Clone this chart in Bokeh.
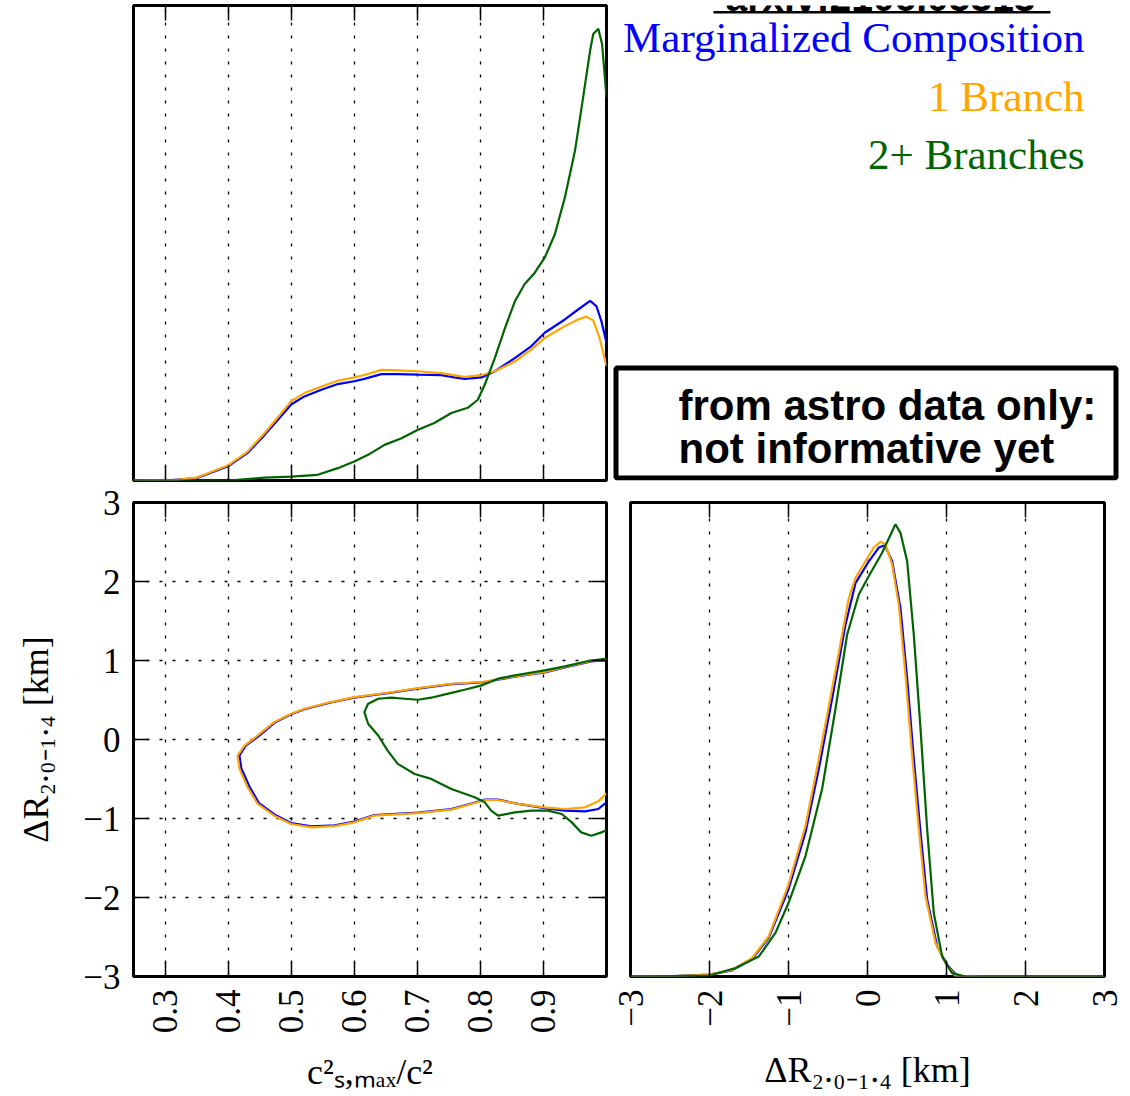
import math
from bokeh.plotting import figure
from bokeh.models import Range1d, LinearAxis, FixedTicker, Grid, BoxAnnotation, Label
from bokeh.layouts import column, row
from bokeh.embed import file_html
from bokeh.resources import INLINE

# ---------------- data ----------------
cs2_ticks = [0.3, 0.4, 0.5, 0.6, 0.7, 0.8, 0.9]
cs2_tick_labels = ["0.3", "0.4", "0.5", "0.6", "0.7", "0.8", "0.9"]
dr_ticks = [-3, -2, -1, 0, 1, 2, 3]
dr_tick_labels = ["\u22123", "\u22122", "\u22121", "0", "1", "2", "3"]

series_names = ["Marginalized Composition", "1 Branch", "2+ Branches"]
series_colors = ["blue", "orange", "darkgreen"]

# marginal of c_s,max^2 / c^2 (top-left panel)
cs2_x_blue = [0.25, 0.30, 0.35, 0.40, 0.431, 0.458, 0.479, 0.50, 0.521, 0.548, 0.574, 0.60, 0.616, 0.643, 0.669,
              0.701, 0.738, 0.759, 0.775, 0.802, 0.823, 0.855, 0.881, 0.902, 0.934, 0.955, 0.974, 0.984, 0.992, 1.0]
cs2_pdf_blue = [0.0, 0.0, 0.005, 0.030, 0.058, 0.096, 0.128, 0.160, 0.177, 0.191, 0.203, 0.209, 0.214, 0.224, 0.224,
                0.223, 0.222, 0.217, 0.214, 0.217, 0.230, 0.258, 0.283, 0.311, 0.339, 0.360, 0.378, 0.367, 0.335, 0.290]
cs2_x_orange = [0.25, 0.315, 0.35, 0.40, 0.431, 0.458, 0.479, 0.50, 0.521, 0.548, 0.574, 0.60, 0.616, 0.643, 0.669,
                0.701, 0.738, 0.775, 0.802, 0.823, 0.855, 0.881, 0.902, 0.934, 0.955, 0.968, 0.979, 0.989, 1.0]
cs2_pdf_orange = [0.0, 0.001, 0.006, 0.032, 0.061, 0.100, 0.133, 0.167, 0.184, 0.198, 0.210, 0.217, 0.222, 0.233, 0.232,
                  0.230, 0.226, 0.218, 0.222, 0.230, 0.251, 0.276, 0.300, 0.325, 0.339, 0.345, 0.337, 0.300, 0.241]
cs2_x_green = [0.25, 0.40, 0.458, 0.50, 0.542, 0.574, 0.60, 0.622, 0.648, 0.675, 0.701, 0.727, 0.754, 0.780, 0.796,
               0.807, 0.823, 0.839, 0.855, 0.870, 0.886, 0.902, 0.918, 0.934, 0.950, 0.963, 0.974, 0.979, 0.987, 0.993, 1.0]
cs2_pdf_green = [0.0, 0.0, 0.006, 0.008, 0.012, 0.026, 0.040, 0.054, 0.075, 0.089, 0.107, 0.121, 0.142, 0.153, 0.170,
                 0.202, 0.258, 0.321, 0.378, 0.413, 0.437, 0.469, 0.518, 0.596, 0.694, 0.807, 0.905, 0.940, 0.951, 0.919, 0.807]

# marginal of Delta R (bottom-right panel)
dr_x_blue = [-3.0, -2.43, -2.0, -1.713, -1.46, -1.249, -1.0, -0.785, -0.616, -0.447, -0.279, -0.152, 0.017, 0.143,
             0.219, 0.312, 0.417, 0.502, 0.586, 0.671, 0.755, 0.881, 1.008, 1.135, 1.5, 3.0]
dr_pdf_blue = [0.0, 0.001, 0.004, 0.013, 0.037, 0.082, 0.184, 0.304, 0.438, 0.587, 0.742, 0.830, 0.876, 0.905,
               0.910, 0.876, 0.777, 0.629, 0.459, 0.304, 0.163, 0.064, 0.025, 0.001, 0.0, 0.0]
dr_x_orange = [-3.0, -2.43, -2.0, -1.713, -1.46, -1.249, -1.0, -0.785, -0.616, -0.447, -0.321, -0.236, -0.152, -0.026,
               0.080, 0.164, 0.228, 0.312, 0.396, 0.481, 0.565, 0.649, 0.734, 0.860, 0.987, 1.114, 1.5, 3.0]
dr_pdf_orange = [0.0, 0.001, 0.004, 0.014, 0.039, 0.085, 0.194, 0.318, 0.459, 0.608, 0.721, 0.799, 0.841, 0.876,
                 0.905, 0.917, 0.912, 0.869, 0.784, 0.636, 0.466, 0.311, 0.170, 0.071, 0.028, 0.001, 0.0, 0.0]
dr_x_green = [-3.0, -2.0, -1.671, -1.376, -1.165, -1.0, -0.785, -0.574, -0.405, -0.258, -0.110, 0.017, 0.185, 0.354,
              0.417, 0.502, 0.586, 0.671, 0.755, 0.839, 0.945, 1.071, 1.24, 3.0]
dr_pdf_green = [0.0, 0.002, 0.018, 0.042, 0.092, 0.155, 0.254, 0.396, 0.565, 0.721, 0.806, 0.845, 0.894, 0.954,
                0.936, 0.876, 0.721, 0.523, 0.311, 0.134, 0.042, 0.007, 0.0, 0.0]

# credible contours (bottom-left panel)
ctr_x_blue = [1.0, 0.976, 0.934, 0.902, 0.855, 0.802, 0.754, 0.701, 0.653, 0.600, 0.563, 0.521, 0.500, 0.474, 0.449,
              0.428, 0.418, 0.421, 0.434, 0.449, 0.474, 0.500, 0.532, 0.569, 0.600, 0.632, 0.701, 0.754, 0.786, 0.807,
              0.828, 0.860, 0.902, 0.934, 0.966, 0.987, 1.0]
ctr_y_blue = [1.005, 0.988, 0.912, 0.848, 0.794, 0.722, 0.700, 0.645, 0.586, 0.531, 0.468, 0.383, 0.320, 0.214, 0.045,
              -0.078, -0.200, -0.368, -0.598, -0.806, -0.952, -1.058, -1.100, -1.086, -1.040, -0.956, -0.925, -0.882,
              -0.810, -0.760, -0.762, -0.815, -0.868, -0.901, -0.909, -0.880, -0.795]
ctr_x_orange = [1.0, 0.976, 0.934, 0.902, 0.855, 0.802, 0.754, 0.701, 0.653, 0.600, 0.563, 0.521, 0.500, 0.473, 0.447,
                0.426, 0.415, 0.418, 0.431, 0.447, 0.473, 0.500, 0.532, 0.569, 0.600, 0.632, 0.701, 0.754, 0.786, 0.807,
                0.828, 0.860, 0.902, 0.934, 0.966, 0.987, 1.0]
ctr_y_orange = [1.011, 0.994, 0.918, 0.854, 0.800, 0.728, 0.706, 0.651, 0.592, 0.537, 0.474, 0.389, 0.326, 0.220, 0.051,
                -0.076, -0.203, -0.372, -0.605, -0.816, -0.964, -1.070, -1.112, -1.096, -1.049, -0.964, -0.931, -0.888,
                -0.816, -0.766, -0.766, -0.816, -0.859, -0.880, -0.859, -0.783, -0.681]
ctr_x_green = [1.0, 0.971, 0.934, 0.902, 0.855, 0.828, 0.802, 0.775, 0.749, 0.722, 0.701, 0.680, 0.659, 0.638, 0.622,
               0.616, 0.622, 0.638, 0.653, 0.669, 0.696, 0.722, 0.754, 0.791, 0.807, 0.817, 0.828, 0.855, 0.881, 0.907,
               0.929, 0.945, 0.960, 0.976, 0.992, 1.0]
ctr_y_green = [1.024, 0.994, 0.926, 0.876, 0.812, 0.770, 0.685, 0.630, 0.580, 0.529, 0.503, 0.516, 0.529, 0.516, 0.453,
               0.347, 0.199, 0.051, -0.140, -0.309, -0.436, -0.499, -0.626, -0.732, -0.795, -0.901, -0.964, -0.922,
               -0.901, -0.901, -0.943, -1.049, -1.176, -1.218, -1.176, -1.146]

title_text = "arxiv:2106.05313"
box_lines = ["from astro data only:", "not informative yet"]
xlabel_cs2 = "c\u00b2\u209b,\u2098\u2090\u2093/c\u00b2"
label_dr = "\u0394R\u2082.\u2080\u208b\u2081.\u2084 [km]"

SERIF = "Liberation Serif"
SANS = "Liberation Sans"
LW = 2.2
GRID_DASH = "3 10"
LABEL_SHIFT = 11  # Label baseline correction (px)


def base_fig(w, h, xr, yr, left, right, top, bottom):
    p = figure(width=w, height=h, x_range=xr, y_range=yr, x_axis_location=None, y_axis_location=None,
               toolbar_location=None, output_backend="svg",
               min_border_left=left, min_border_right=right, min_border_top=top, min_border_bottom=bottom)
    p.grid.visible = False
    p.outline_line_color = "black"
    p.outline_line_width = 3
    p.background_fill_color = "white"
    p.border_fill_color = "white"
    return p


def make_axis(ticks, labels=None, axis_label=None):
    ax = LinearAxis(ticker=FixedTicker(ticks=ticks))
    ax.major_tick_in = 15
    ax.major_tick_out = 0
    ax.minor_tick_in = 0
    ax.minor_tick_out = 0
    ax.major_tick_line_width = 1.5
    ax.major_tick_line_color = "black"
    ax.axis_line_color = None
    if labels is None:
        ax.major_label_text_font_size = "0px"
        ax.major_label_text_color = None
        ax.major_label_standoff = 0
    else:
        ax.major_label_overrides = dict(zip(ticks, labels))
        ax.major_label_text_font = SERIF
        ax.major_label_text_font_size = "35px"
        ax.major_label_text_color = "black"
        ax.major_label_standoff = 13
    if axis_label is not None:
        ax.axis_label = axis_label
        ax.axis_label_text_font = SERIF
        ax.axis_label_text_font_size = "36px"
        ax.axis_label_text_font_style = "normal"
        ax.axis_label_text_color = "black"
        ax.axis_label_standoff = 14
    return ax


def add_grid(p, dim, ticks):
    g = Grid(dimension=dim, ticker=FixedTicker(ticks=ticks), grid_line_color="black",
             grid_line_dash=GRID_DASH, grid_line_width=1.3)
    p.add_layout(g)


# ---------------- top-left: marginal of c_s^2 ----------------
pA = base_fig(612, 485, Range1d(0.25, 1.0), Range1d(0, 1.0), 133, 6, 5, 5)
pA.add_layout(make_axis(cs2_ticks), "below")
pA.add_layout(make_axis(cs2_ticks), "above")
add_grid(pA, 0, cs2_ticks)
pA.line(cs2_x_blue, cs2_pdf_blue, line_color=series_colors[0], line_width=LW)
pA.line(cs2_x_orange, cs2_pdf_orange, line_color=series_colors[1], line_width=LW)
pA.line(cs2_x_green, cs2_pdf_green, line_color=series_colors[2], line_width=LW)

# ---------------- top-right: legend and note (frame coords = page pixels) ----------------
pR = figure(width=518, height=485, x_range=Range1d(612, 1130), y_range=Range1d(480, 5),
            x_axis_location=None, y_axis_location=None, toolbar_location=None, output_backend="svg",
            min_border_left=0, min_border_right=0, min_border_top=5, min_border_bottom=5)
pR.grid.visible = False
pR.outline_line_color = None

pR.add_layout(Label(x=880, y=8 - LABEL_SHIFT, text=title_text, text_align="center", text_baseline="alphabetic",
                    text_font=SANS, text_font_style="bold", text_font_size="39px", text_color="black"))
pR.add_layout(BoxAnnotation(left=713, right=1050, top=10.5, bottom=13, fill_color="black", fill_alpha=1,
                            line_color=None))
legend_y = [48, 107, 165]
for name, col, yy in zip(series_names, series_colors, legend_y):
    pR.add_layout(Label(x=1084, y=yy - LABEL_SHIFT, text=name, text_align="right", text_baseline="alphabetic",
                        text_font=SERIF, text_font_size="43px", text_color=col))

pR.add_layout(BoxAnnotation(left=615.5, right=1115.5, top=367.5, bottom=477.5, fill_alpha=0,
                            line_color="black", line_alpha=1, line_width=5))
for txt, yy in zip(box_lines, [416, 459]):
    pR.add_layout(Label(x=678, y=yy - LABEL_SHIFT, text=txt, text_align="left", text_baseline="alphabetic",
                        text_font=SANS, text_font_style="bold", text_font_size="42px", text_color="black"))

# ---------------- bottom-left: 2D contours ----------------
pB = base_fig(612, 611, Range1d(0.25, 1.0), Range1d(-3, 3), 133, 6, 17, 120)
axb = make_axis(cs2_ticks, cs2_tick_labels, xlabel_cs2)
axb.major_label_orientation = math.pi / 2
axb.axis_label_standoff = 16
pB.add_layout(axb, "below")
pB.add_layout(make_axis(cs2_ticks), "above")
axl = make_axis(dr_ticks, dr_tick_labels, label_dr)
axl.axis_label_standoff = 24
pB.add_layout(axl, "left")
pB.add_layout(make_axis(dr_ticks), "right")
add_grid(pB, 0, cs2_ticks)
add_grid(pB, 1, dr_ticks)
pB.line(ctr_x_blue, ctr_y_blue, line_color=series_colors[0], line_width=LW)
pB.line(ctr_x_orange, ctr_y_orange, line_color=series_colors[1], line_width=LW)
pB.line(ctr_x_green, ctr_y_green, line_color=series_colors[2], line_width=LW)

# ---------------- bottom-right: marginal of Delta R ----------------
pC = base_fig(518, 611, Range1d(-3, 3), Range1d(0, 1.0), 18, 26, 17, 120)
axc = make_axis(dr_ticks, dr_tick_labels, label_dr)
axc.major_label_orientation = math.pi / 2
axc.axis_label_standoff = 20
pC.add_layout(axc, "below")
pC.add_layout(make_axis(dr_ticks), "above")
add_grid(pC, 0, dr_ticks[1:-1])
pC.line(dr_x_blue, dr_pdf_blue, line_color=series_colors[0], line_width=LW)
pC.line(dr_x_orange, dr_pdf_orange, line_color=series_colors[1], line_width=LW)
pC.line(dr_x_green, dr_pdf_green, line_color=series_colors[2], line_width=LW)

layout = column(row(pA, pR), row(pB, pC))
open("out.html", "w").write(file_html(layout, INLINE))
